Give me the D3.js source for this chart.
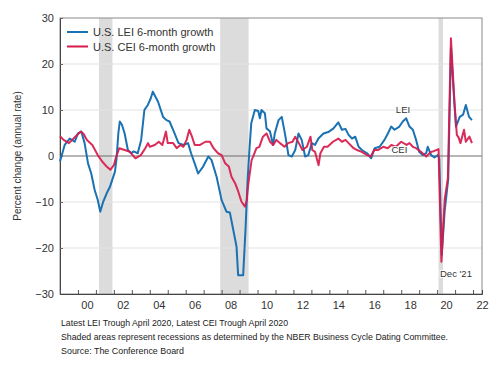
<!DOCTYPE html>
<html>
<head>
<meta charset="utf-8">
<script src="https://cdn.jsdelivr.net/npm/d3@7"></script>
<style>
  body { margin: 0; background: #fff; }
  svg { display: block; font-family: "Liberation Sans", Arial, sans-serif; }
</style>
</head>
<body>
<div id="chart"></div>
<script>
// LEI 6-month growth, [decimal year, % annual rate]
const lei = [
  [1999.0,-1.2],[1999.26,2.4],[1999.54,3.8],[1999.82,3.1],[2000.0,4.9],[2000.19,5.3],
  [2000.37,2.8],[2000.56,-1.6],[2000.74,-3.8],[2000.93,-7.4],[2001.1,-9.5],[2001.24,-12.1],
  [2001.4,-10.0],[2001.6,-8.1],[2001.78,-6.7],[2002.06,-3.4],[2002.15,-0.5],[2002.25,5.0],
  [2002.33,7.5],[2002.45,6.8],[2002.6,4.9],[2002.78,1.3],[2002.96,0.6],[2003.1,1.0],
  [2003.33,0.6],[2003.52,3.5],[2003.7,10.0],[2003.89,11.1],[2004.05,12.5],[2004.17,14.0],
  [2004.3,13.0],[2004.46,11.8],[2004.74,8.5],[2004.93,7.8],[2005.1,7.5],[2005.3,5.7],
  [2005.6,2.8],[2005.87,2.4],[2006.13,2.8],[2006.3,0.6],[2006.5,-1.6],[2006.69,-3.8],
  [2006.97,-2.3],[2007.26,-0.1],[2007.44,-0.9],[2007.72,-4.5],[2008.0,-9.6],[2008.27,-12.1],
  [2008.46,-12.3],[2008.65,-16.1],[2008.83,-19.7],[2008.92,-25.9],[2009.2,-25.9],[2009.33,-16.0],
  [2009.45,-5.0],[2009.56,2.0],[2009.65,7.1],[2009.85,10.0],[2010.04,9.8],[2010.13,8.2],
  [2010.22,10.0],[2010.41,9.3],[2010.5,6.0],[2010.69,5.4],[2010.87,2.4],[2010.96,4.9],
  [2011.17,7.8],[2011.35,8.5],[2011.54,4.6],[2011.72,0.2],[2011.91,-0.1],[2012.1,1.3],
  [2012.28,4.9],[2012.46,3.5],[2012.65,-0.1],[2012.83,0.2],[2013.02,2.8],[2013.2,2.4],
  [2013.39,3.8],[2013.67,4.9],[2013.94,5.2],[2014.23,6.0],[2014.5,7.3],[2014.7,5.7],
  [2014.9,5.9],[2015.07,4.6],[2015.26,3.8],[2015.44,4.2],[2015.63,2.0],[2015.81,1.3],
  [2016.1,0.6],[2016.33,-0.5],[2016.52,1.7],[2016.8,2.0],[2017.07,3.5],[2017.26,4.9],
  [2017.44,6.4],[2017.63,5.7],[2017.9,6.4],[2018.09,7.5],[2018.28,8.2],[2018.46,6.4],
  [2018.65,5.7],[2018.83,3.5],[2019.0,0.9],[2019.2,0.2],[2019.39,0.6],[2019.48,2.0],
  [2019.67,0.2],[2019.85,-0.3],[2020.04,0.2],[2020.12,-0.5],[2020.26,-21.5],[2020.42,-12.0],
  [2020.52,-8.5],[2020.62,-5.0],[2020.77,23.5],[2020.97,11.0],[2021.05,6.4],[2021.26,8.5],
  [2021.45,9.0],[2021.6,11.1],[2021.78,8.5],[2021.94,7.8]
];

// CEI 6-month growth
const cei = [
  [1999.0,4.3],[1999.2,3.5],[1999.5,2.8],[1999.85,4.2],[2000.15,5.3],[2000.3,4.9],
  [2000.5,3.5],[2000.8,2.4],[2001.1,0.2],[2001.35,-1.2],[2001.6,-2.3],[2001.8,-3.0],
  [2002.0,-2.0],[2002.1,-0.5],[2002.3,1.7],[2002.6,1.3],[2002.9,0.9],[2003.2,-0.5],
  [2003.5,0.2],[2003.75,1.7],[2003.9,2.8],[2004.0,2.0],[2004.28,2.4],[2004.5,3.1],
  [2004.7,2.4],[2004.9,5.3],[2005.0,2.8],[2005.3,2.8],[2005.5,1.7],[2005.7,2.4],
  [2005.87,2.0],[2006.05,3.5],[2006.2,5.7],[2006.35,4.2],[2006.5,2.4],[2006.8,2.4],
  [2007.1,3.1],[2007.35,3.1],[2007.55,1.7],[2007.8,0.6],[2008.0,0.2],[2008.2,-1.6],
  [2008.4,-2.3],[2008.55,-4.5],[2008.75,-5.9],[2008.9,-7.4],[2009.1,-9.9],[2009.3,-11.0],
  [2009.4,-9.6],[2009.48,-6.3],[2009.67,-0.9],[2009.76,-0.1],[2009.94,1.7],[2010.1,2.0],
  [2010.3,4.2],[2010.5,4.9],[2010.7,3.1],[2010.87,2.4],[2011.05,3.5],[2011.25,2.8],
  [2011.5,2.0],[2011.7,2.8],[2011.95,3.1],[2012.1,4.2],[2012.3,2.8],[2012.5,1.3],
  [2012.75,2.0],[2012.95,4.2],[2013.05,1.3],[2013.2,0.9],[2013.4,-2.0],[2013.5,0.6],
  [2013.7,2.0],[2013.9,2.0],[2014.2,3.1],[2014.5,3.8],[2014.7,3.1],[2014.9,3.5],
  [2015.07,2.8],[2015.35,1.7],[2015.54,1.3],[2015.8,0.9],[2016.1,0.2],[2016.3,-0.1],
  [2016.5,1.3],[2016.7,1.3],[2017.0,2.0],[2017.25,1.7],[2017.45,2.4],[2017.7,2.0],
  [2018.0,3.1],[2018.3,2.4],[2018.46,2.8],[2018.65,2.0],[2018.83,1.7],[2019.1,0.9],
  [2019.39,-0.1],[2019.67,0.9],[2019.85,1.1],[2020.08,1.5],[2020.24,-23.0],[2020.42,-9.5],
  [2020.6,-4.8],[2020.77,25.6],[2020.97,11.4],[2021.1,4.6],[2021.2,4.0],[2021.3,2.8],
  [2021.5,5.7],[2021.6,3.1],[2021.8,4.2],[2021.94,2.8]
];

// NBER recessions
const recessions = [[2001.17, 2001.92], [2007.92, 2009.5], [2020.08, 2020.33]];

const yTicks = [-30, -20, -10, 0, 10, 20, 30];
const yearLabels = ['00','02','04','06','08','10','12','14','16','18','20','22'];
const footnotes = [
  'Latest LEI Trough April 2020, Latest CEI Trough April 2020',
  'Shaded areas represent recessions as determined by the NBER Business Cycle Dating Committee.',
  'Source: The Conference Board'
];

const width = 498;
const height = 384;
const margin = { top: 18, right: 16, bottom: 90, left: 60 };
const plotW = width - margin.left - margin.right;
const plotH = height - margin.top - margin.bottom;

const blue = '#1a72b2';
const red = '#d7194b';

const svg = d3.select('#chart')
  .append('svg')
  .attr('width', width)
  .attr('height', height);

svg.append('rect').attr('width', width).attr('height', height).attr('fill', '#fff');

const graph = svg.append('g')
  .attr('transform', `translate(${margin.left}, ${margin.top})`);

const xScale = d3.scaleLinear().domain([1999, 2022.5]).range([0, plotW]);
const yScale = d3.scaleLinear().domain([-30, 30]).range([plotH, 0]);

// recession bands
graph.selectAll('.rec')
  .data(recessions)
  .enter()
  .append('rect')
  .attr('x', d => xScale(d[0]))
  .attr('width', d => xScale(d[1]) - xScale(d[0]))
  .attr('y', 0)
  .attr('height', plotH)
  .attr('fill', '#dcdcdc');

// grid lines
graph.selectAll('.grid')
  .data(yTicks.filter(d => d !== 0 && Math.abs(d) !== 30))
  .enter()
  .append('line')
  .attr('x1', 0).attr('x2', plotW)
  .attr('y1', d => yScale(d)).attr('y2', d => yScale(d))
  .attr('stroke', '#e3e3e3')
  .attr('stroke-width', 1);

// zero line
graph.append('line')
  .attr('x1', 0).attr('x2', plotW)
  .attr('y1', yScale(0)).attr('y2', yScale(0))
  .attr('stroke', '#6e6e6e')
  .attr('stroke-width', 1);

// frame
graph.append('rect')
  .attr('width', plotW).attr('height', plotH)
  .attr('fill', 'none')
  .attr('stroke', '#8a8a8a')
  .attr('stroke-width', 1);

// axes
const yAxis = d3.axisLeft(yScale).tickValues(yTicks).tickSize(-3).tickPadding(6);
const yAxisGroup = graph.append('g').call(yAxis);
yAxisGroup.select('.domain').attr('stroke', '#444');
yAxisGroup.selectAll('line').attr('stroke', '#666');
yAxisGroup.selectAll('text')
  .attr('fill', '#333')
  .style('font-size', '11px');

const years = d3.range(1999, 2023);
const xTickAxis = d3.axisBottom(xScale).tickValues(years).tickSize(-4).tickFormat('');
const xTickGroup = graph.append('g')
  .attr('transform', `translate(0, ${plotH})`)
  .call(xTickAxis);
xTickGroup.select('.domain').attr('stroke', '#444');
xTickGroup.selectAll('line').attr('stroke', '#555');

const labelYears = yearLabels.map(d => 2000 + (+d) + 0.5);
const xLabelAxis = d3.axisBottom(xScale)
  .tickValues(labelYears)
  .tickSize(0)
  .tickPadding(7)
  .tickFormat((d, i) => yearLabels[i]);
const xLabelGroup = graph.append('g')
  .attr('transform', `translate(0, ${plotH})`)
  .call(xLabelAxis);
xLabelGroup.select('.domain').remove();
xLabelGroup.selectAll('text')
  .attr('fill', '#333')
  .style('font-size', '11px');

// y axis title
svg.append('text')
  .attr('transform', `translate(21, ${margin.top + yScale(0)}) rotate(-90)`)
  .attr('text-anchor', 'middle')
  .attr('fill', '#333')
  .style('font-size', '10px')
  .text('Percent change (annual rate)');

// lines
const line = d3.line()
  .x(d => xScale(d[0]))
  .y(d => yScale(d[1]));

graph.append('path')
  .datum(lei)
  .attr('fill', 'none')
  .attr('stroke', blue)
  .attr('stroke-width', 2)
  .attr('stroke-linejoin', 'round')
  .attr('d', line);

graph.append('path')
  .datum(cei)
  .attr('fill', 'none')
  .attr('stroke', red)
  .attr('stroke-width', 2)
  .attr('stroke-linejoin', 'round')
  .attr('opacity', 0.92)
  .attr('d', line);

// in-chart labels
const annot = [
  { text: 'LEI', x: 2018.1, y: 9.3 },
  { text: 'CEI', x: 2017.9, y: 0.6 },
  { text: "Dec '21", x: 2021.05, y: -26.4 }
];
graph.selectAll('.annot')
  .data(annot)
  .enter()
  .append('text')
  .attr('x', d => xScale(d.x))
  .attr('y', d => yScale(d.y))
  .attr('text-anchor', 'middle')
  .attr('fill', '#333')
  .attr('stroke', '#fff')
  .attr('stroke-width', 2)
  .attr('paint-order', 'stroke')
  .style('font-size', '9.5px')
  .text(d => d.text);

// legend
const legend = [
  { label: 'U.S. LEI 6-month growth', color: blue },
  { label: 'U.S. CEI 6-month growth', color: red }
];
const lg = svg.append('g').attr('transform', 'translate(67, 32)');
legend.forEach((d, i) => {
  lg.append('line')
    .attr('x1', 0).attr('x2', 21)
    .attr('y1', i * 14.5).attr('y2', i * 14.5)
    .attr('stroke', d.color)
    .attr('stroke-width', 2);
  lg.append('text')
    .attr('x', 26)
    .attr('y', i * 14.5 + 4)
    .attr('fill', '#333')
    .style('font-size', '11px')
    .text(d.label);
});

// footnotes
const noteWidths = [227, 387, 123];
svg.selectAll('.note')
  .data(footnotes)
  .enter()
  .append('text')
  .attr('x', 61)
  .attr('y', (d, i) => 326 + i * 14)
  .attr('fill', '#222')
  .attr('textLength', (d, i) => noteWidths[i])
  .attr('lengthAdjust', 'spacingAndGlyphs')
  .style('font-size', '9px')
  .text(d => d);
</script>
</body>
</html>
